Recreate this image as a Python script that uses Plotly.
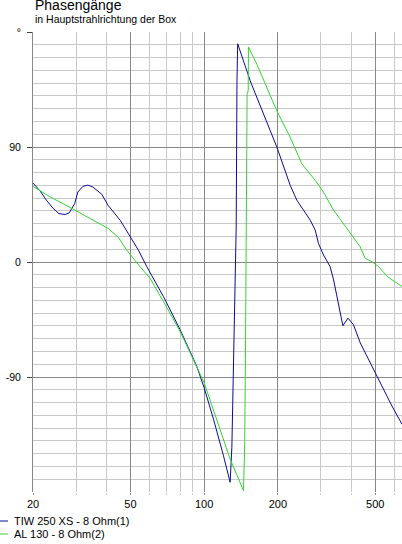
import math
import plotly.graph_objects as go

# ---- data ----
tiw_name = "TIW 250 XS - 8 Ohm(1)"
tiw_freq = [20, 21.4, 22.7, 24.2, 25.5, 27.0, 28.1, 29.6, 30.5, 32.0, 33.5, 35.1, 38.2, 40.5, 45.4,
            50, 53.9, 58.3, 61.9, 68.2, 79.8, 93.3,
            100, 109.2, 120, 127.7, 129.8, 131.7, 133.9, 135.2, 136.2, 137.1,
            154.2, 172.1, 198.3, 224.7, 239.3, 254.8, 271.3, 284.3, 293, 307.4, 327, 337.9,
            348.8, 359.7, 368.8, 386.8, 407.4, 434.3, 484.9, 532.7, 585, 643]
tiw_phase = [61.8, 55.5, 48.3, 41.8, 37.9, 37.2, 38.4, 45.7, 54.8, 59.2, 60.2, 58.7, 53.0, 44.4, 32.7,
             19.7, 9.3, -3.6, -12.7, -27, -53, -81.6,
             -98.4, -123, -151.7, -172.4, -144.9, -86.5, -29.6, 27.3, 141.8, 170.8,
             141.8, 119.7, 89.8, 60.0, 48.3, 40.5, 32.7, 24.9, 14.6, 5.5, -3.6, -14,
             -27, -40, -49.9, -43.9, -49.1, -63.3, -81.6, -98.4, -112.7, -127]

al_name = "AL 130 - 8 Ohm(2)"
al_freq = [20, 23.5, 28.1, 33.5, 40.5, 44.5, 48.3, 54.7, 60.1, 68.2, 79.8, 100, 112.5, 127.7, 144.8,
           146.4, 147.5, 148.5, 149.5, 149.8, 151.4, 151.7,
           164.2, 198, 224.7, 250.8, 284.3, 307, 338, 371, 407, 434, 455, 485, 516, 560, 643]
al_phase = [59.2, 50.9, 43.1, 35.3, 26.3, 19.5, 9.3, -3.6, -12.7, -30.9, -54.3, -94.5, -123, -154.2, -178.9,
            -144, -76.3, 9.3, 63.9, 131.6, 134, 168.3,
            154.8, 118.4, 97.6, 76.9, 63.9, 54.8, 40.5, 30.1, 19.7, 11.9, 2.9, 0.2, -3.6, -11.4, -19.2]

x_tick_vals = [20, 50, 100, 200, 500]
x_tick_text = ["20", "50", "100", "200", "500"]
x_minor_vals = [30, 40, 60, 70, 80, 90, 300, 400, 600]
y_tick_vals = [180, 90, 0, -90]
y_tick_text = ["°", "90", "0", "-90"]

title_text = "Phasengänge"
subtitle_text = "in Hauptstrahlrichtung der Box"

blue = "#0c0c96"
green = "#33d633"
major_grid = "#878787"
minor_grid = "#c8c8c8"
font_family = "Liberation Sans, Arial, sans-serif"

W, H = 402, 544
ML, MR, MT, MB = 33, 0, 32, 52
PW, PH = W - ML - MR, H - MT - MB


def px_to_paper(xp, yp):
    return (xp - ML) / PW, (H - MB - yp) / PH


fig = go.Figure()
fig.add_trace(go.Scatter(x=tiw_freq, y=tiw_phase, mode="lines", name=tiw_name,
                         line=dict(color=blue, width=1), showlegend=False))
fig.add_trace(go.Scatter(x=al_freq, y=al_phase, mode="lines", name=al_name,
                         line=dict(color=green, width=1), showlegend=False))

fig.update_xaxes(type="log", range=[math.log10(20), math.log10(643)],
                 tickmode="array", tickvals=x_tick_vals, ticktext=x_tick_text,
                 showgrid=True, gridcolor=major_grid, gridwidth=1,
                 ticks="outside", ticklen=2, tickcolor=major_grid,
                 minor=dict(tickmode="array", tickvals=x_minor_vals, showgrid=True,
                            gridcolor=minor_grid, ticks="outside", ticklen=2, tickcolor=minor_grid),
                 showline=False, zeroline=False,
                 tickfont=dict(family=font_family, size=11, color="#000000"))
fig.update_yaxes(range=[-180, 180], tickmode="array", tickvals=y_tick_vals, ticktext=y_tick_text,
                 showgrid=True, gridcolor=major_grid, gridwidth=1,
                 minor=dict(dtick=10, tick0=0, showgrid=True, gridcolor=minor_grid),
                 ticks="outside", ticklen=5, tickcolor="#404040",
                 showline=True, linecolor=major_grid, linewidth=1,
                 zeroline=False, ticklabelstandoff=4,
                 tickfont=dict(family=font_family, size=10.5, color="#000000"))

annotations = []
tx, ty = px_to_paper(33, 5)
annotations.append(dict(text=title_text, x=tx, y=ty, xref="paper", yref="paper",
                        xanchor="left", yanchor="middle", showarrow=False,
                        font=dict(family=font_family, size=14, color="#000000")))
sx, sy = px_to_paper(33, 19)
annotations.append(dict(text=subtitle_text, x=sx, y=sy, xref="paper", yref="paper",
                        xanchor="left", yanchor="middle", showarrow=False,
                        font=dict(family=font_family, size=10.5, color="#000000")))

shapes = []
for i, (name, col) in enumerate([(tiw_name, blue), (al_name, green)]):
    ypx = 521 + 13 * i
    x0, y0 = px_to_paper(0, ypx)
    x1, _ = px_to_paper(8, ypx)
    shapes.append(dict(type="line", xref="paper", yref="paper", x0=x0, x1=x1, y0=y0, y1=y0,
                       line=dict(color=col, width=1)))
    lx, ly = px_to_paper(12, ypx)
    annotations.append(dict(text=name, x=lx, y=ly, xref="paper", yref="paper",
                            xanchor="left", yanchor="middle", showarrow=False,
                            font=dict(family=font_family, size=11, color="#000000")))

fig.update_layout(width=W, height=H, margin=dict(l=ML, r=MR, t=MT, b=MB, pad=0),
                  paper_bgcolor="#ffffff", plot_bgcolor="#ffffff",
                  annotations=annotations, shapes=shapes, showlegend=False)

fig.write_html("out.html", config={"displayModeBar": False},
               post_script="document.body.style.margin='0px';document.body.style.overflow='hidden';")
